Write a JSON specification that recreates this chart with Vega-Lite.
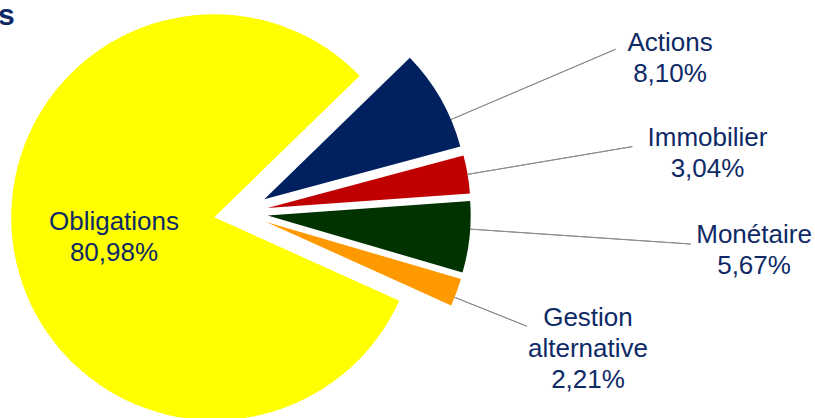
{
  "$schema": "https://vega.github.io/schema/vega-lite/v6.json",
  "width": 815,
  "height": 418,
  "autosize": {"type": "none"},
  "padding": 0,
  "background": "white",
  "title": {"text": "s", "anchor": "start", "orient": "none", "baseline": "alphabetic", "dx": -2, "dy": 25, "fontSize": 30, "fontWeight": "bold", "font": "Liberation Sans", "color": "#0E2A66"},
  "config": {"view": {"stroke": null}},
  "data": {"values": [
    {"cat": "Actions", "v": 8.10, "rang": 1},
    {"cat": "Immobilier", "v": 3.04, "rang": 2},
    {"cat": "Monétaire", "v": 5.67, "rang": 3},
    {"cat": "Gestion alternative", "v": 2.21, "rang": 4},
    {"cat": "Obligations", "v": 80.98, "rang": 5}
  ]},
  "encoding": {
    "theta": {"field": "v", "type": "quantitative", "stack": true, "scale": {"range": [0.7994, 7.0826]}},
    "order": {"field": "rang", "type": "quantitative"}
  },
  "layer": [
    {
      "mark": {
        "type": "arc",
        "radius": 203,
        "x": {"expr": "width * 0.2955"},
        "y": {"expr": "height * 0.5086"},
        "xOffset": {"expr": "27 * sin((scale('theta', datum.v_start) + scale('theta', datum.v_end)) / 2)"},
        "yOffset": {"expr": "-27 * cos((scale('theta', datum.v_start) + scale('theta', datum.v_end)) / 2)"}
      },
      "encoding": {
        "color": {
          "field": "cat", "type": "nominal", "legend": null,
          "scale": {
            "domain": ["Actions", "Immobilier", "Monétaire", "Gestion alternative", "Obligations"],
            "range": ["#00205F", "#C00000", "#003300", "#FF9900", "#FFFF00"]
          }
        }
      }
    },
    {
      "mark": {
        "type": "arc",
        "filled": false,
        "stroke": "#8C8C8C",
        "strokeWidth": 1,
        "padAngle": 3.1416,
        "radius2": 203,
        "radius": {"expr": "datum.cat == 'Actions' ? 382 : datum.cat == 'Immobilier' ? 370 : datum.cat == 'Monétaire' ? 424 : datum.cat == 'Gestion alternative' ? 281 : 203"},
        "strokeOpacity": {"expr": "datum.cat == 'Obligations' ? 0 : 1"},
        "thetaOffset": {"expr": "datum.cat == 'Actions' ? 0.1134 : datum.cat == 'Monétaire' ? -0.0393 : datum.cat == 'Gestion alternative' ? 0.0262 : 0"},
        "theta2Offset": {"expr": "datum.cat == 'Actions' ? 0.1134 : datum.cat == 'Monétaire' ? -0.0393 : datum.cat == 'Gestion alternative' ? 0.0262 : 0"},
        "x": {"expr": "width * 0.2955"},
        "y": {"expr": "height * 0.5086"},
        "xOffset": {"expr": "27 * sin((scale('theta', datum.v_start) + scale('theta', datum.v_end)) / 2)"},
        "yOffset": {"expr": "-27 * cos((scale('theta', datum.v_start) + scale('theta', datum.v_end)) / 2)"}
      }
    },
    {
      "mark": {
        "type": "text",
        "font": "Liberation Sans",
        "fontSize": 26,
        "lineHeight": 31,
        "align": "center",
        "baseline": "middle",
        "color": "#0E2A66",
        "x": {"expr": "width * 0.2955"},
        "y": {"expr": "height * 0.5086"},
        "radius": {"expr": "datum.cat == 'Actions' ? 461.5 : datum.cat == 'Immobilier' ? 472.6 : datum.cat == 'Monétaire' ? 513.7 : datum.cat == 'Gestion alternative' ? 362.8 : 127.2"},
        "thetaOffset": {"expr": "datum.cat == 'Actions' ? 0.1405 : datum.cat == 'Immobilier' ? 0.0086 : datum.cat == 'Monétaire' ? -0.063 : datum.cat == 'Gestion alternative' ? -0.0595 : 0.0998"},
        "text": {"expr": "split(datum.cat + ' ' + replace(format(datum.v / 100, '.2%'), '.', ','), ' ')"}
      }
    }
  ]
}
